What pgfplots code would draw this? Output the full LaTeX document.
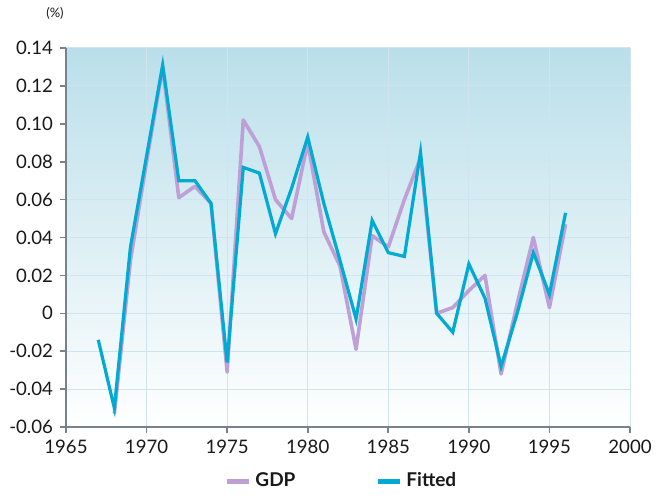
\documentclass[border=0pt]{standalone}
\usepackage{pgfplots}
\pgfplotsset{compat=1.18}
\usepackage{fontspec}
\setmainfont{Lato}
\definecolor{fitc}{RGB}{0,170,210}
\definecolor{gdpc}{RGB}{190,160,215}
\definecolor{bgtop}{RGB}{186,223,234}
\definecolor{gridc}{RGB}{208,228,238}
\definecolor{axc}{RGB}{120,130,140}
\definecolor{txt}{RGB}{25,25,25}
\begin{document}
\begin{tikzpicture}
\begin{axis}[
  scale only axis, width=282pt, height=189.5pt,
  xmin=1965, xmax=2000, ymin=-0.06, ymax=0.14,
  clip=false,
  xtick={1965,1970,...,2000},
  xticklabels={1965,1970,1975,1980,1985,1990,1995,2000},
  ytick={-0.06,-0.04,...,0.141},
  yticklabels={-0.06,-0.04,-0.02,0,0.02,0.04,0.06,0.08,0.10,0.12,0.14},
  axis x line*=bottom, axis y line*=left,
  axis line style={axc, line width=0.8pt, -},
  tick align=outside, major tick length=3pt,
  tick style={axc, line width=0.8pt},
  ymajorgrids, xmajorgrids,
  grid style={gridc, line width=0.5pt},
  axis background/.style={shade, top color=bgtop, bottom color=white},
  tick label style={font=\fontsize{9.3}{11}\selectfont, text=txt},
  legend style={at={(axis description cs:0.49,0)}, anchor=center, yshift=-27pt,
    draw=none, fill=none, font=\bfseries\fontsize{9.5}{11}\selectfont, text=txt,
    /tikz/every even column/.append style={column sep=38pt}},
  legend columns=2,
  legend image code/.code={\draw[#1, line width=2.5pt] (0pt,0pt) -- (11pt,0pt);},
]
\addplot[gdpc, line width=1.8pt, line join=round] coordinates {
(1968,-0.053) (1969,0.028) (1970,0.080) (1971,0.130) (1972,0.061) (1973,0.067)
(1974,0.058) (1975,-0.031) (1976,0.102) (1977,0.088) (1978,0.060) (1979,0.050)
(1980,0.090) (1981,0.043) (1982,0.025) (1983,-0.019) (1984,0.041) (1985,0.035)
(1986,0.060) (1987,0.082) (1988,0.000) (1989,0.003) (1990,0.012) (1991,0.020)
(1992,-0.032) (1993,0.005) (1994,0.040) (1995,0.003) (1996,0.047)};
\addlegendentry{GDP}
\addplot[fitc, line width=1.6pt, line join=miter] coordinates {
(1967,-0.014) (1968,-0.050) (1969,0.035) (1970,0.083) (1971,0.131) (1972,0.070)
(1973,0.070) (1974,0.058) (1975,-0.026) (1976,0.077) (1977,0.074) (1978,0.042)
(1979,0.066) (1980,0.093) (1981,0.058) (1982,0.028) (1983,-0.003) (1984,0.049)
(1985,0.032) (1986,0.030) (1987,0.085) (1988,0.000) (1989,-0.010) (1990,0.026)
(1991,0.008) (1992,-0.028) (1993,0.000) (1994,0.032) (1995,0.010) (1996,0.053)};
\addlegendentry{Fitted}
\node[anchor=south, font=\fontsize{6.5}{8}\selectfont, text=txt] at (axis description cs:0,1) [xshift=-5.5pt, yshift=11pt] {(\%)};
\end{axis}
\path (current axis.south west) ++(-33pt,-31pt);
\path (current axis.north east) ++(15.5pt,24pt);
\end{tikzpicture}
\end{document}
